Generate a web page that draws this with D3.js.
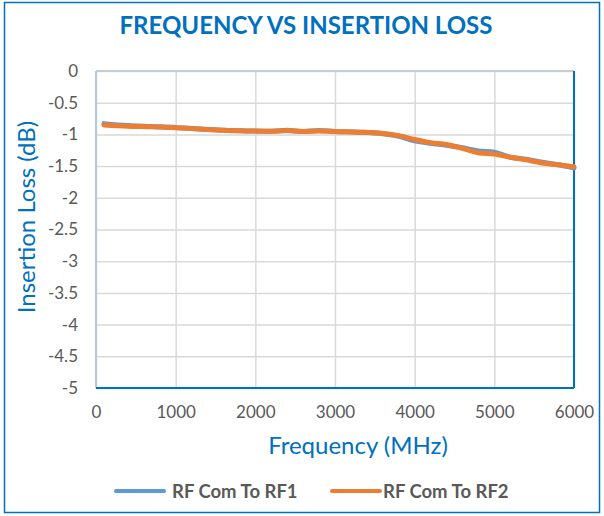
<!DOCTYPE html>
<html>
<head>
<meta charset="utf-8">
<script src="https://cdn.jsdelivr.net/npm/d3@7"></script>
<style>
  body { margin: 0; background: #fff; }
  text { font-family: Lato, "Open Sans", sans-serif; }
</style>
</head>
<body>
<svg class="chart"></svg>
<script>
const freq = [100, 400, 700, 1000, 1300, 1600, 1900, 2200, 2400, 2600, 2800, 3000, 3300, 3600, 3800, 4000, 4200, 4400, 4600, 4800, 5000, 5200, 5400, 5600, 5800, 6000];
const rf1 = [-0.83, -0.86, -0.875, -0.89, -0.915, -0.935, -0.945, -0.95, -0.935, -0.955, -0.94, -0.955, -0.965, -0.99, -1.03, -1.10, -1.14, -1.17, -1.21, -1.26, -1.28, -1.36, -1.39, -1.44, -1.48, -1.53];
const rf2 = [-0.85, -0.87, -0.88, -0.895, -0.915, -0.935, -0.945, -0.95, -0.94, -0.955, -0.945, -0.955, -0.965, -0.985, -1.02, -1.08, -1.13, -1.16, -1.22, -1.29, -1.31, -1.36, -1.40, -1.45, -1.48, -1.51];
const seriesNames = ['RF Com To RF1', 'RF Com To RF2'];
const xTicks = [0, 1000, 2000, 3000, 4000, 5000, 6000];
const yTicks = [0, -0.5, -1, -1.5, -2, -2.5, -3, -3.5, -4, -4.5, -5];

const svg = d3.select('.chart')
	.attr('width', 604)
	.attr('height', 516);

const blue = '#0070C0';
const grey = '#595959';
const colors = ['#5B9BD5', '#ED7D31'];

// outer frame
svg.append('rect')
	.attr('x', 4.5).attr('y', 2.5)
	.attr('width', 595).attr('height', 510)
	.attr('fill', 'none')
	.attr('stroke', blue)
	.attr('stroke-width', 1.5);

const margin = { top: 71, left: 96 };
const innerWidth = 574 - 96;
const innerHeight = 388 - 71;

const xScale = d3.scaleLinear().domain([0, 6000]).range([0, innerWidth]);
const yScale = d3.scaleLinear().domain([-5, 0]).range([innerHeight, 0]);

const g = svg.append('g')
	.attr('transform', `translate(${margin.left}, ${margin.top})`);

// gridlines + tick labels
const yAxis = d3.axisLeft(yScale)
	.tickValues(yTicks)
	.tickSize(-innerWidth)
	.tickPadding(18)
	.tickFormat(d => String(d));
const yAxisG = g.append('g').call(yAxis);
yAxisG.select('.domain').remove();
yAxisG.selectAll('line').attr('stroke', '#d9d9d9').attr('stroke-width', 1.5);
yAxisG.selectAll('text')
	.attr('fill', grey)
	.style('font-size', '17px');

const xAxis = d3.axisBottom(xScale)
	.tickValues(xTicks)
	.tickSize(-innerHeight)
	.tickPadding(18)
	.tickFormat(d3.format('d'));
const xAxisG = g.append('g').call(xAxis)
	.attr('transform', `translate(0, ${innerHeight})`);
xAxisG.select('.domain').remove();
xAxisG.selectAll('line').attr('stroke', '#d9d9d9').attr('stroke-width', 1.5);
xAxisG.selectAll('text')
	.attr('fill', grey)
	.style('font-size', '17px');

// plot border
g.append('line').attr('x1', 0).attr('x2', innerWidth).attr('y1', 0).attr('y2', 0)
	.attr('stroke', '#c5ccd3').attr('stroke-width', 2);
g.append('line').attr('x1', 0).attr('x2', 0).attr('y1', 0).attr('y2', innerHeight)
	.attr('stroke', '#b3c9dd').attr('stroke-width', 2);
g.append('line').attr('x1', innerWidth).attr('x2', innerWidth).attr('y1', 0).attr('y2', innerHeight)
	.attr('stroke', blue).attr('stroke-width', 2);
g.append('line').attr('x1', 0).attr('x2', innerWidth).attr('y1', innerHeight).attr('y2', innerHeight)
	.attr('stroke', blue).attr('stroke-width', 2);

// series
const line = d3.line()
	.x((d, i) => xScale(freq[i]))
	.y(d => yScale(d))
	.curve(d3.curveMonotoneX);

[rf1, rf2].forEach((s, k) => {
	g.append('path')
		.attr('d', line(s))
		.attr('fill', 'none')
		.attr('stroke', colors[k])
		.attr('stroke-width', 5)
		.attr('stroke-linecap', 'round');
});

// titles
svg.append('text')
	.attr('x', 306).attr('y', 34)
	.attr('text-anchor', 'middle')
	.attr('fill', blue)
	.style('font-size', '24px')
	.style('font-weight', 'bold')
	.text('FREQUENCY VS INSERTION LOSS');

svg.append('text')
	.attr('x', 358).attr('y', 454)
	.attr('text-anchor', 'middle')
	.attr('fill', blue)
	.style('font-size', '24px')
	.text('Frequency (MHz)');

svg.append('text')
	.attr('transform', 'translate(35, 217) rotate(-90)')
	.attr('text-anchor', 'middle')
	.attr('fill', blue)
	.style('font-size', '24px')
	.text('Insertion Loss (dB)');

// legend
const legendX = [116, 332];
seriesNames.forEach((name, k) => {
	const lg = svg.append('g').attr('transform', `translate(${legendX[k]}, 491)`);
	lg.append('line')
		.attr('x1', 0).attr('x2', 48)
		.attr('stroke', colors[k])
		.attr('stroke-width', 4)
		.attr('stroke-linecap', 'round');
	lg.append('text')
		.attr('x', k === 0 ? 56 : 51).attr('y', 6.5)
		.attr('fill', grey)
		.style('font-size', '18.5px')
		.style('font-weight', 'bold')
		.text(name);
});
</script>
</body>
</html>
